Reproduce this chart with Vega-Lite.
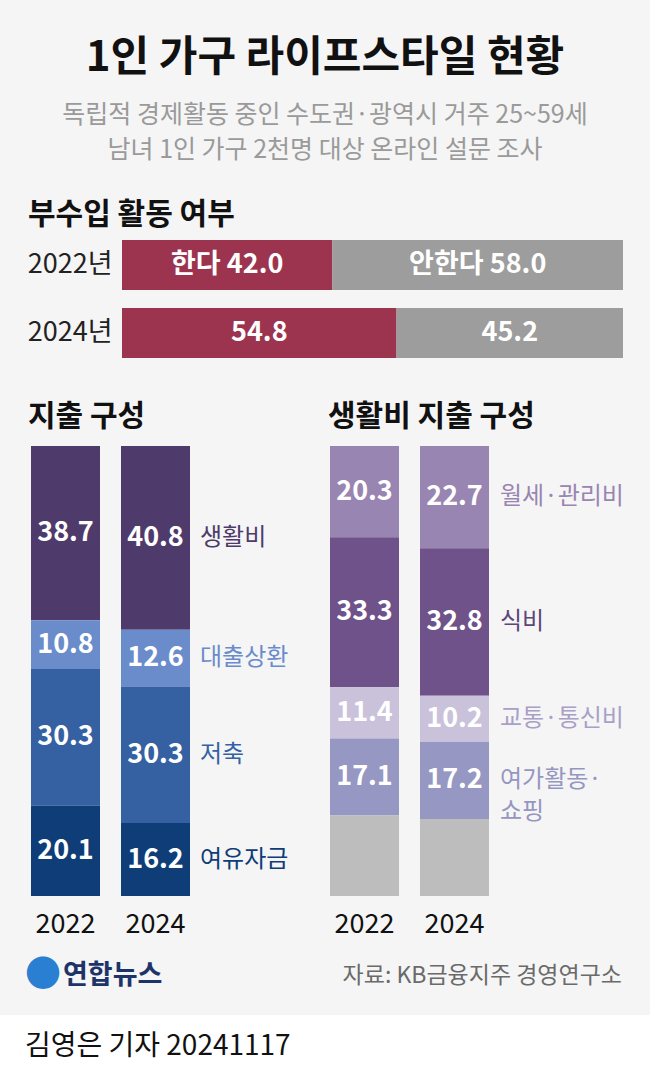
{
  "$schema": "https://vega.github.io/schema/vega-lite/v6.json",
  "background": "#f5f5f5",
  "padding": {"top": 37, "left": 0, "right": 0, "bottom": 0},
  "config": {
    "font": "Noto Sans CJK KR",
    "view": {"stroke": null},
    "axis": {"labelFont": "Noto Sans CJK KR"},
    "title": {"font": "Noto Sans CJK KR", "subtitleFont": "Noto Sans CJK KR"},
    "text": {"font": "Noto Sans CJK KR"}
  },
  "title": {
    "text": "1인 가구 라이프스타일 현황",
    "subtitle": ["독립적 경제활동 중인 수도권·광역시 거주 25~59세", "남녀 1인 가구 2천명 대상 온라인 설문 조사"],
    "anchor": "middle",
    "frame": "bounds",
    "fontSize": 42,
    "fontWeight": "bold",
    "color": "#111111",
    "subtitleFontSize": 25,
    "subtitleColor": "#9a9a9a",
    "subtitleLineHeight": 35,
    "subtitlePadding": 23,
    "subtitleFontWeight": "normal",
    "offset": 36
  },
  "spacing": 0,
  "resolve": {"scale": {"color": "independent", "fill": "independent", "x": "independent", "y": "independent"}},
  "vconcat": [
    {
      "spacing": 44,
      "resolve": {"scale": {"color": "independent", "fill": "independent", "x": "independent", "y": "independent"}},
      "vconcat": [
        {
          "width": 623,
          "height": 118,
          "title": {"text": "부수입 활동 여부", "anchor": "start", "frame": "group", "dx": 28, "fontSize": 30, "fontWeight": "bold", "color": "#111111", "offset": 10},
          "data": {"values": [
            {"year": "2022년", "answer": "한다", "k": 1, "value": 42.0, "label": "한다 42.0"},
            {"year": "2022년", "answer": "안한다", "k": 2, "value": 58.0, "label": "안한다 58.0"},
            {"year": "2024년", "answer": "한다", "k": 1, "value": 54.8, "label": "54.8"},
            {"year": "2024년", "answer": "안한다", "k": 2, "value": 45.2, "label": "45.2"}
          ]},
          "encoding": {
            "y": {"field": "year", "type": "nominal", "scale": {"paddingInner": 0.2647, "paddingOuter": 0}, "axis": {"title": null, "domain": false, "ticks": false, "offset": -112, "labelPadding": 0, "labelFontSize": 27, "labelColor": "#222222"}},
            "x": {"field": "value", "type": "quantitative", "stack": "zero", "scale": {"domain": [-24.351, 100], "zero": false, "nice": false}, "axis": null},
            "order": {"field": "k", "type": "quantitative"},
            "detail": {"field": "answer"}
          },
          "layer": [
            {"mark": {"type": "bar"}, "encoding": {"color": {"field": "answer", "type": "nominal", "scale": {"domain": ["한다", "안한다"], "range": ["#9c344f", "#9d9d9d"]}, "legend": null}}},
            {"mark": {"type": "text", "color": "white", "fontSize": 27, "fontWeight": "bold"}, "encoding": {"x": {"field": "value", "type": "quantitative", "stack": "zero", "bandPosition": 0.5}, "text": {"field": "label"}}}
          ]
        },
        {
          "spacing": 78,
          "bounds": "flush",
          "resolve": {"scale": {"color": "independent", "fill": "independent", "x": "independent", "y": "independent"}},
          "hconcat": [
            {
              "width": 221,
              "height": 450,
              "title": {"text": "지출 구성", "anchor": "start", "frame": "group", "fontSize": 30, "fontWeight": "bold", "color": "#111111", "offset": 14, "dx": 28},
              "data": {"values": [
                {"year": "2022", "cat": "생활비", "k": 1, "value": 38.7},
                {"year": "2022", "cat": "대출상환", "k": 2, "value": 10.8},
                {"year": "2022", "cat": "저축", "k": 3, "value": 30.3},
                {"year": "2022", "cat": "여유자금", "k": 4, "value": 20.1},
                {"year": "2024", "cat": "생활비", "k": 1, "value": 40.8},
                {"year": "2024", "cat": "대출상환", "k": 2, "value": 12.6},
                {"year": "2024", "cat": "저축", "k": 3, "value": 30.3},
                {"year": "2024", "cat": "여유자금", "k": 4, "value": 16.2}
              ]},
              "encoding": {
                "x": {"field": "year", "type": "nominal", "scale": {"paddingInner": 0.2333, "paddingOuter": 0.3444}, "axis": {"title": null, "domain": false, "ticks": false, "labelAngle": 0, "labelFontSize": 27, "labelPadding": 15, "labelColor": "#111111"}},
                "y": {"field": "value", "type": "quantitative", "stack": "zero", "scale": {"domain": [0, 99.9], "reverse": true}, "axis": null},
                "order": {"field": "k", "type": "quantitative"},
                "detail": {"field": "cat"}
              },
              "layer": [
                {"mark": {"type": "bar"}, "encoding": {"color": {"field": "cat", "type": "nominal", "scale": {"domain": ["생활비", "대출상환", "저축", "여유자금"], "range": ["#4f3b6b", "#6a8ccb", "#3561a3", "#0e3d78"]}, "legend": null}}},
                {"mark": {"type": "text", "color": "white", "fontSize": 27, "fontWeight": "bold"}, "encoding": {"y": {"field": "value", "type": "quantitative", "stack": "zero", "bandPosition": 0.5}, "text": {"field": "value", "type": "quantitative", "format": ".1f"}}},
                {"transform": [{"filter": "datum.year == '2024'"}], "mark": {"type": "text", "align": "left", "dx": 10, "fontSize": 24}, "encoding": {
                  "x": {"field": "year", "type": "nominal", "bandPosition": 1},
                  "y": {"field": "value", "type": "quantitative", "stack": "zero", "bandPosition": 0.5},
                  "text": {"field": "cat"},
                  "fill": {"field": "cat", "type": "nominal", "scale": {"domain": ["생활비", "대출상환", "저축", "여유자금"], "range": ["#4f3b6b", "#6a8ccb", "#3561a3", "#0e3d78"]}, "legend": null}
                }}
              ]
            },
            {
              "width": 221,
              "height": 450,
              "title": {"text": "생활비 지출 구성", "anchor": "start", "frame": "group", "fontSize": 30, "fontWeight": "bold", "color": "#111111", "offset": 14, "dx": 29},
              "data": {"values": [
                {"year": "2022", "cat": "월세·관리비", "name": "월세·관리비", "k": 1, "value": 20.3},
                {"year": "2022", "cat": "식비", "name": "식비", "k": 2, "value": 33.3},
                {"year": "2022", "cat": "교통·통신비", "name": "교통·통신비", "k": 3, "value": 11.4},
                {"year": "2022", "cat": "여가활동·쇼핑", "name": "여가활동·\n쇼핑", "k": 4, "value": 17.1},
                {"year": "2022", "cat": "기타", "name": "", "k": 5, "value": 17.9},
                {"year": "2024", "cat": "월세·관리비", "name": "월세·관리비", "k": 1, "value": 22.7},
                {"year": "2024", "cat": "식비", "name": "식비", "k": 2, "value": 32.8},
                {"year": "2024", "cat": "교통·통신비", "name": "교통·통신비", "k": 3, "value": 10.2},
                {"year": "2024", "cat": "여가활동·쇼핑", "name": "여가활동·\n쇼핑", "k": 4, "value": 17.2},
                {"year": "2024", "cat": "기타", "name": "", "k": 5, "value": 17.1}
              ]},
              "encoding": {
                "x": {"field": "year", "type": "nominal", "scale": {"paddingInner": 0.2333, "paddingOuter": 0.3444}, "axis": {"title": null, "domain": false, "ticks": false, "labelAngle": 0, "labelFontSize": 27, "labelPadding": 15, "labelColor": "#111111"}},
                "y": {"field": "value", "type": "quantitative", "stack": "zero", "scale": {"domain": [0, 100], "reverse": true}, "axis": null},
                "order": {"field": "k", "type": "quantitative"},
                "detail": {"field": "cat"}
              },
              "layer": [
                {"mark": {"type": "bar"}, "encoding": {"color": {"field": "cat", "type": "nominal", "scale": {"domain": ["월세·관리비", "식비", "교통·통신비", "여가활동·쇼핑", "기타"], "range": ["#9985b1", "#6e5289", "#c9c2da", "#9697c2", "#bdbdbd"]}, "legend": null}}},
                {"mark": {"type": "text", "color": "white", "fontSize": 27, "fontWeight": "bold"}, "encoding": {"y": {"field": "value", "type": "quantitative", "stack": "zero", "bandPosition": 0.5}, "text": {"condition": {"test": "datum.cat === '기타'", "value": ""}, "field": "value", "type": "quantitative", "format": ".1f"}}},
                {"transform": [{"filter": "datum.year == '2024'"}], "mark": {"type": "text", "align": "left", "dx": 11, "fontSize": 24, "lineBreak": "\n", "lineHeight": 32}, "encoding": {
                  "x": {"field": "year", "type": "nominal", "bandPosition": 1},
                  "y": {"field": "value", "type": "quantitative", "stack": "zero", "bandPosition": 0.5},
                  "text": {"field": "name"},
                  "fill": {"field": "cat", "type": "nominal", "scale": {"domain": ["월세·관리비", "식비", "교통·통신비", "여가활동·쇼핑", "기타"], "range": ["#9985b1", "#5f4679", "#a9a0c8", "#9596c1", "#bdbdbd"]}, "legend": null}
                }}
              ]
            }
          ]
        }
      ]
    },
    {
      "width": 650,
      "height": 78,
      "encoding": {"x": {"field": "side", "type": "nominal", "scale": {"type": "point", "domain": ["left", "right"], "padding": 0.0471}, "axis": null}},
      "layer": [
        {"data": {"values": [{"side": "left", "t": "●"}]}, "mark": {"type": "text", "align": "left", "dx": -3, "fontSize": 36, "color": "#2b7fd2"}, "encoding": {"text": {"field": "t"}}},
        {"data": {"values": [{"side": "left", "t": "연합뉴스"}]}, "mark": {"type": "text", "align": "left", "dx": 35, "fontSize": 27, "fontWeight": "bold", "color": "#1d3469"}, "encoding": {"text": {"field": "t"}}},
        {"data": {"values": [{"side": "right", "t": "자료: KB금융지주 경영연구소"}]}, "mark": {"type": "text", "align": "right", "fontSize": 23, "color": "#6a6a6a"}, "encoding": {"text": {"field": "t"}}}
      ]
    },
    {
      "width": 650,
      "height": 64,
      "view": {"fill": "white", "stroke": null},
      "data": {"values": [{"side": "left", "t": "김영은 기자 20241117"}]},
      "mark": {"type": "text", "align": "left", "dx": -3, "fontSize": 28, "color": "#111111"},
      "encoding": {
        "x": {"field": "side", "type": "nominal", "scale": {"type": "point", "domain": ["left", "right"], "padding": 0.0471}, "axis": null},
        "text": {"field": "t"}
      }
    }
  ]
}
